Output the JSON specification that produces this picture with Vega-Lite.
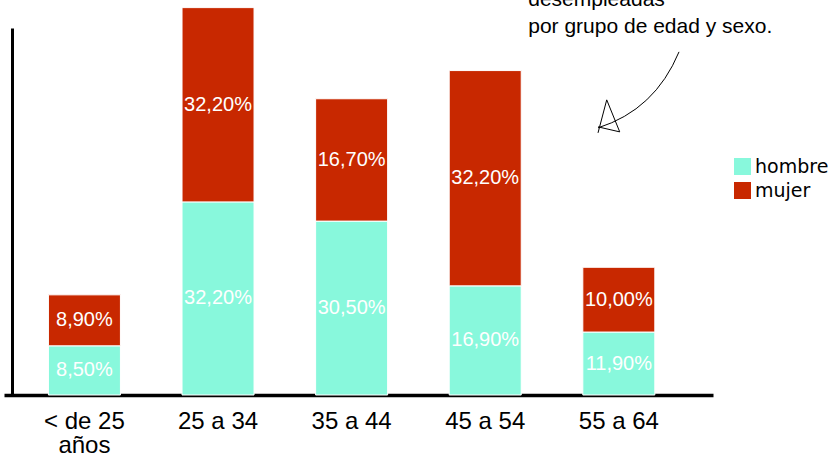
{
  "$schema": "https://vega.github.io/schema/vega-lite/v6.json",
  "width": 709,
  "height": 367,
  "autosize": {"type": "none"},
  "padding": {"left": 4, "top": 28, "right": 126, "bottom": 60},
  "background": "white",
  "config": {"view": {"stroke": null}},
  "data": {
    "values": [
      {"edad": "< de 25 años", "sexo": "hombre", "valor": 8.2, "etiqueta": "8,50%"},
      {"edad": "< de 25 años", "sexo": "mujer", "valor": 8.5, "etiqueta": "8,90%"},
      {"edad": "25 a 34", "sexo": "hombre", "valor": 32.2, "etiqueta": "32,20%"},
      {"edad": "25 a 34", "sexo": "mujer", "valor": 32.4, "etiqueta": "32,20%"},
      {"edad": "35 a 44", "sexo": "hombre", "valor": 29.0, "etiqueta": "30,50%"},
      {"edad": "35 a 44", "sexo": "mujer", "valor": 20.4, "etiqueta": "16,70%"},
      {"edad": "45 a 54", "sexo": "hombre", "valor": 18.2, "etiqueta": "16,90%"},
      {"edad": "45 a 54", "sexo": "mujer", "valor": 35.9, "etiqueta": "32,20%"},
      {"edad": "55 a 64", "sexo": "hombre", "valor": 10.5, "etiqueta": "11,90%"},
      {"edad": "55 a 64", "sexo": "mujer", "valor": 10.8, "etiqueta": "10,00%"}
    ]
  },
  "layer": [
    {
      "mark": {"type": "bar", "stroke": "white", "strokeWidth": 1},
      "encoding": {
        "x": {
          "field": "edad", "type": "nominal", "sort": null,
          "scale": {"paddingInner": 0.461, "paddingOuter": 0.384, "align": 0.433},
          "axis": {
            "title": null, "domainColor": "black", "domainWidth": 3.5, "ticks": false,
            "labelAngle": 0, "labelFont": "Liberation Sans", "labelFontSize": 24,
            "labelColor": "black", "labelPadding": 14, "labelLineHeight": 24,
            "labelExpr": "datum.value == '< de 25 años' ? ['< de 25', 'años'] : datum.label"
          }
        },
        "y": {
          "field": "valor", "type": "quantitative", "stack": "zero",
          "scale": {"domain": [0, 61.2], "nice": false},
          "axis": {
            "title": null, "labels": false, "ticks": false, "grid": false,
            "domainColor": "black", "domainWidth": 3, "offset": -8
          }
        },
        "order": {"field": "sexo", "sort": "ascending"},
        "color": {
          "field": "sexo", "type": "nominal",
          "scale": {"domain": ["hombre", "mujer"], "range": ["#88F8DC", "#C82800"]},
          "legend": {
            "title": null, "orient": "none", "legendX": 729, "legendY": 129, "padding": 0,
            "symbolType": "square", "symbolSize": 289, "symbolStrokeWidth": 0,
            "labelFont": "DejaVu Sans", "labelFontSize": 19, "labelColor": "black",
            "rowPadding": 4, "labelOffset": 3
          }
        }
      }
    },
    {
      "mark": {"type": "text", "color": "white", "font": "Liberation Sans", "fontSize": 20, "baseline": "middle"},
      "encoding": {
        "x": {"field": "edad", "type": "nominal", "sort": null},
        "y": {"field": "valor", "type": "quantitative", "stack": "zero", "bandPosition": 0.5},
        "detail": {"field": "sexo"},
        "order": {"field": "sexo", "sort": "ascending"},
        "text": {"field": "etiqueta"}
      }
    },
    {
      "data": {"values": [{}]},
      "mark": {
        "type": "text", "text": ["desempleadas", "por grupo de edad y sexo."],
        "align": "left", "baseline": "alphabetic", "font": "Liberation Sans",
        "fontSize": 21, "lineHeight": 27, "dx": 43, "color": "black"
      },
      "encoding": {"x": {"datum": "45 a 54"}, "y": {"datum": 64.9}}
    },
    {
      "data": {"values": [{}]},
      "mark": {
        "type": "point",
        "shape": "M0.602,-0.4Q0.361,0.18,-0.208,0.36M-0.208,0.41L-0.121,0.08L0.009,0.40M-0.208,0.35L0.009,0.40",
        "size": 40000, "filled": false, "stroke": "black", "strokeWidth": 1, "opacity": 1
      },
      "encoding": {"x": {"datum": "55 a 64"}, "y": {"datum": 50.55}}
    }
  ]
}
